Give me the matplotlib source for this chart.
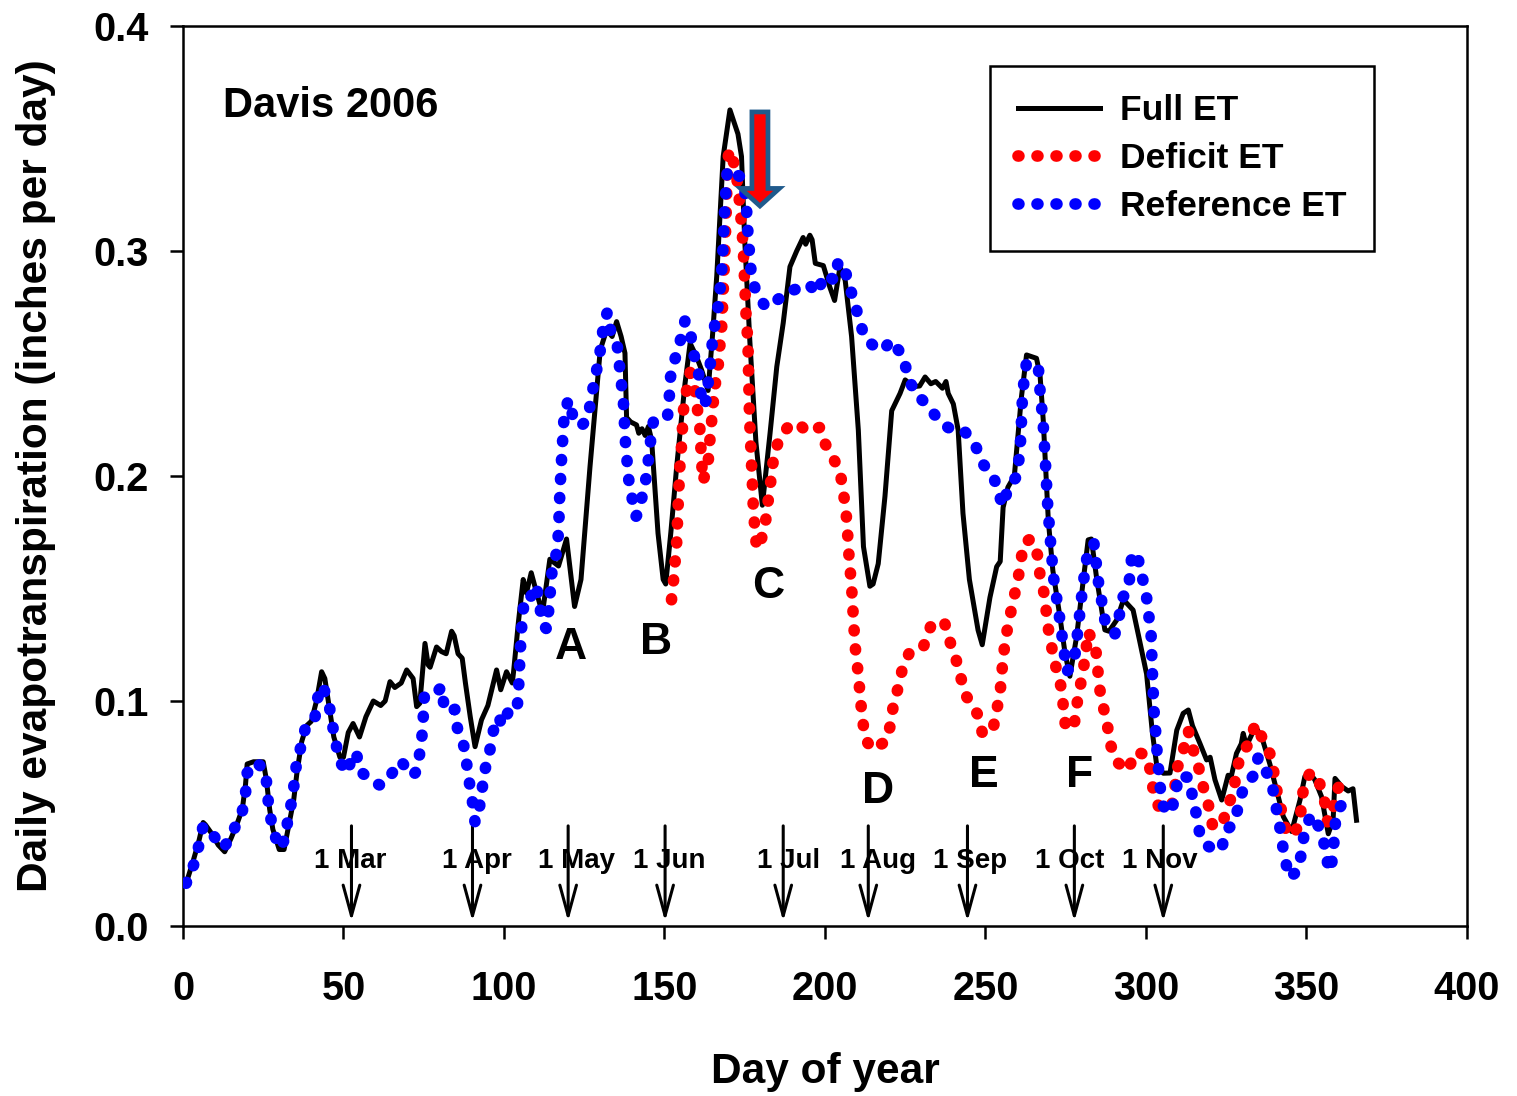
import numpy as np
import matplotlib
matplotlib.use('Agg')
import matplotlib.pyplot as plt

plt.rcParams['font.family'] = ['Liberation Sans', 'DejaVu Sans']
plt.rcParams['font.weight'] = 'bold'

# Full ET (black line)
full_day = [1, 3, 5, 6.3, 7, 9, 11, 13, 15, 17, 18.5, 19.5, 20, 22, 25, 26, 27, 28, 30, 31.5,
            33, 34.5, 35.5, 37, 38.5, 40, 41.6, 43.2, 44.2, 45.5, 47, 48.9, 50, 51.5, 53, 55, 57,
            59.3, 61.6, 63, 64.5, 66, 68, 69.7, 71.7, 72.8, 73.8, 75.4, 76.4, 77, 79, 80.5, 82,
            83.7, 84.5, 85.7, 87, 88, 89.5, 91, 93, 95, 97.7, 99, 100.8, 102.6, 103, 104.5, 106,
            107, 108.5, 110, 112, 114.3, 117, 119.5, 122, 124, 126.8, 130, 132, 133.7, 135.1,
            136.5, 137.7, 138.2, 139.5, 141.3, 142, 143, 144, 145, 146, 148, 149.6, 150.4, 152,
            153.8, 156.4, 158, 160, 161.6, 163.6, 165, 166.3, 168.3, 170.4, 172.9, 174, 175,
            176.6, 178.5, 180.5, 182.9, 185, 187, 189.1, 190, 191.2, 193.2, 194, 195.3, 196, 197,
            199.5, 201.5, 203, 204.7, 206.3, 208.3, 210.4, 212, 214, 215, 216.6, 218.7, 220.8,
            223.4, 225, 227.5, 229.5, 231.2, 233, 234.5, 236.6, 237.7, 238.4, 240, 241.5, 243,
            245, 247.7, 249, 251.4, 253.5, 254.6, 255.5, 257, 259, 261.2, 262.8, 265.9, 267, 268,
            269.6, 271, 273.2, 274.8, 276.3, 278.4, 280.5, 282, 283, 284.6, 285.7, 287.2, 288.5,
            290.9, 293, 296, 298, 300.2, 302, 303.3, 305.4, 307.5, 309.6, 311.6, 313.2, 314.5,
            316.8, 318.9, 320, 321.5, 323.6, 325.6, 326.5, 328.2, 329.7, 330.3, 331.3, 333.4,
            334.8, 336.5, 338.6, 340.7, 342.8, 345.4, 348, 349.5, 351, 352.6, 354.7, 356.8,
            358.3, 358.9, 361, 363, 364.5, 365.6]
full_et = [0.019, 0.028, 0.038, 0.046, 0.045, 0.041, 0.036, 0.033, 0.039, 0.046, 0.052, 0.063,
           0.072, 0.073, 0.073, 0.065, 0.052, 0.043, 0.034, 0.034, 0.045, 0.056, 0.068, 0.082,
           0.089, 0.091, 0.100, 0.113, 0.110, 0.098, 0.084, 0.075, 0.075, 0.086, 0.090, 0.084,
           0.093, 0.100, 0.098, 0.100, 0.1086, 0.106, 0.108, 0.1138, 0.110, 0.0975, 0.099,
           0.1256, 0.116, 0.115, 0.124, 0.122, 0.121, 0.131, 0.129, 0.121, 0.119, 0.108, 0.093,
           0.0797, 0.0916, 0.098, 0.1138, 0.105, 0.113, 0.108, 0.113, 0.135, 0.154, 0.148,
           0.157, 0.149, 0.139, 0.163, 0.160, 0.172, 0.142, 0.154, 0.204, 0.256, 0.265, 0.262,
           0.2686, 0.262, 0.2546, 0.226, 0.224, 0.2227, 0.219, 0.221, 0.218, 0.222, 0.216,
           0.1745, 0.154, 0.152, 0.175, 0.204, 0.241, 0.259, 0.253, 0.247, 0.238, 0.263, 0.289,
           0.342, 0.3627, 0.352, 0.342, 0.305, 0.260, 0.215, 0.187, 0.219, 0.2486, 0.268,
           0.293, 0.296, 0.300, 0.306, 0.303, 0.307, 0.305, 0.2945, 0.2935, 0.284, 0.278,
           0.293, 0.287, 0.262, 0.2204, 0.1686, 0.151, 0.152, 0.161, 0.191, 0.229, 0.2367,
           0.2427, 0.2397, 0.240, 0.244, 0.241, 0.242, 0.239, 0.242, 0.2367, 0.232, 0.2204,
           0.1834, 0.154, 0.1315, 0.125, 0.146, 0.1597, 0.162, 0.186, 0.195, 0.200, 0.235,
           0.2538, 0.2523, 0.245, 0.2249, 0.180, 0.158, 0.1375, 0.1212, 0.111, 0.1286, 0.154,
           0.1716, 0.172, 0.155, 0.145, 0.1316, 0.131, 0.136, 0.145, 0.1404, 0.127, 0.112,
           0.086, 0.072, 0.0679, 0.068, 0.087, 0.0945, 0.096, 0.089, 0.0812, 0.0738, 0.075,
           0.065, 0.056, 0.067, 0.066, 0.0767, 0.081, 0.0856, 0.080, 0.0864, 0.087, 0.082,
           0.072, 0.0604, 0.0486, 0.042, 0.056, 0.0664, 0.068, 0.065, 0.0575, 0.041, 0.047,
           0.0656, 0.062, 0.060, 0.061, 0.047]

# Deficit ET (red dots)
def_day = [152.2, 152.8, 153.8, 154.3, 154.8, 155.3, 155.9, 156.9, 158, 159.5, 161, 161.6, 162,
           163.6, 164.1, 164.6, 165.1, 165.7, 166.7, 167.2, 167.8, 168.3, 168.8, 169.2, 169.7,
           170.4, 172, 173, 173.5, 174, 174.5, 175, 175.5, 176, 176.5, 177, 177.5, 177.7, 178.2,
           178.7, 179.3, 181.3, 182, 182.9, 183.5, 184.4, 186, 188.6, 191.7, 194.2, 198.4, 200,
           202.6, 204.7, 205.7, 206.5, 207, 207.3, 207.8, 208.3, 208.6, 209, 209.3, 210, 210.6,
           211.1, 211.7, 212.5, 214.6, 219, 220.4, 221.3, 222.9, 224.2, 226.7, 230.8, 232.9,
           237.1, 238.8, 240.8, 242.4, 244.1, 247.5, 249, 252.2, 253.2, 254.5, 255, 255.5,
           256.3, 257.4, 258.7, 260, 261, 261.8, 264, 266.5, 267, 268.4, 269, 269.8, 270.9,
           272.2, 273.8, 274.3, 275, 277.6, 278.3, 279.4, 280.5, 281.3, 282, 284.4, 285, 285.5,
           286.7, 288, 289.1, 290.9, 294.3, 296.8, 300, 301.5, 302.3, 304.2, 308, 309, 309.7,
           311.6, 313.2, 314.7, 316.5, 317.9, 319.6, 320.7, 323.8, 325.1, 327.4, 328, 329.6,
           330.5, 332, 334.1, 336.5, 338.8, 339.8, 340.9, 342.3, 343.6, 345.9, 348, 348.5,
           349.3, 351.4, 354.1, 355.8, 356.6, 358.3, 359, 362.3]
def_et = [0.145, 0.153, 0.170, 0.188, 0.204, 0.213, 0.229, 0.238, 0.246, 0.238, 0.222, 0.2057,
          0.1975, 0.2057, 0.215, 0.2227, 0.231, 0.2396, 0.248, 0.257, 0.265, 0.282, 0.299,
          0.3156, 0.341, 0.345, 0.337, 0.328, 0.3197, 0.312, 0.3027, 0.286, 0.269, 0.26, 0.226,
          0.21, 0.193, 0.185, 0.176, 0.168, 0.168, 0.177, 0.186, 0.1946, 0.203, 0.211, 0.217,
          0.222, 0.2236, 0.2197, 0.2216, 0.2145, 0.2078, 0.202, 0.193, 0.185, 0.1764, 0.168,
          0.159, 0.151, 0.143, 0.134, 0.1256, 0.117, 0.1086, 0.100, 0.092, 0.0834, 0.0785,
          0.082, 0.0893, 0.098, 0.1064, 0.1148, 0.1227, 0.1246, 0.133, 0.1356, 0.127, 0.1187,
          0.110, 0.102, 0.0942, 0.086, 0.086, 0.094, 0.1027, 0.111, 0.119, 0.128, 0.136, 0.145,
          0.153, 0.1615, 0.170, 0.172, 0.164, 0.1556, 0.147, 0.139, 0.130, 0.122, 0.1135, 0.105,
          0.0967, 0.088, 0.0886, 0.097, 0.1055, 0.114, 0.1224, 0.131, 0.1227, 0.114, 0.106,
          0.0975, 0.089, 0.080, 0.073, 0.069, 0.0775, 0.076, 0.0686, 0.060, 0.052, 0.053,
          0.0616, 0.070, 0.078, 0.0867, 0.0785, 0.070, 0.0616, 0.053, 0.045, 0.0444, 0.0527,
          0.0592, 0.068, 0.076, 0.078, 0.081, 0.0898, 0.0827, 0.076, 0.0686, 0.0592, 0.0508,
          0.0427, 0.040, 0.0464, 0.055, 0.0634, 0.0686, 0.0634, 0.0545, 0.046, 0.051, 0.059,
          0.0676]

# Reference ET (blue dots)
ref_day = [1, 3.4, 5, 6.3, 9.1, 12.4, 14.8, 17.2, 18.5, 19.5, 20, 22.7, 25.7, 26.3, 26.8, 28.1,
           29.9, 32, 32.7, 34, 34.8, 35.4, 37, 38.3, 41.1, 41.6, 43.5, 45.5, 46.5, 47.5, 48.9,
           51.2, 52.9, 54, 55.1, 58.3, 61.6, 64.7, 67.8, 71.6, 72.8, 73.8, 74.5, 74.9, 75.2,
           78.5, 80.6, 81.3, 82.4, 84.7, 85.5, 87.5, 88.4, 89.2, 90.2, 91, 92.3, 93.2, 94.2,
           95.6, 96.7, 98.4, 99.4, 101.3, 104, 104.5, 105, 105.7, 106.5, 108, 109, 110, 111.2,
           111.7, 113.3, 114, 115, 116.4, 117, 117.4, 118, 118.7, 120, 121.6, 123.9, 126.3, 127,
           128.3, 129.4, 130.4, 131, 132.2, 133.3, 135.3, 135.9, 136.5, 137.2, 137.8, 138.8,
           139.8, 141.1, 141.6, 143.2, 144.4, 145.8, 146.7, 148, 151, 151.5, 151.9, 153.3, 155.1,
           156.4, 158.1, 158.7, 160.5, 161, 162, 163.5, 163.7, 164.5, 165, 166, 167, 167.5, 168,
           168.3, 168.8, 169.6, 171.2, 174.4, 175.4, 176.1, 177.1, 178.7, 181.6, 184.1, 188,
           192.2, 195.1, 197.4, 200, 203, 204.1, 205.7, 207.2, 209, 210.6, 212.3, 215.8, 218.4,
           220.4, 224.4, 225.7, 228, 231.7, 236, 239.7, 243.4, 246.7, 249.1, 252.6, 254.2,
           255.5, 257.1, 259.7, 260.5, 261, 261.5, 262, 262.8, 266.5, 266.9, 268, 268.7, 269.3,
           270.2, 271.2, 273, 274.6, 275.3, 277.6, 279, 280.3, 282, 283.8, 285.2, 287.2, 290.3,
           291.7, 292.7, 294.5, 295.7, 297.6, 298.9, 300.2, 301.6, 302, 302.5, 303, 303.4, 303.9,
           304.4, 305.4, 307.7, 309.3, 310, 313.4, 314.5, 315.8, 316.8, 318.7, 320, 323.6,
           324.6, 327.4, 329, 330.3, 333.4, 335, 337, 339.2, 340.2, 341.4, 342.3, 343.3, 344.6,
           347.2, 348.5, 349.3, 351.4, 354.2, 355.8, 356.7, 357.6, 358.3, 358.8, 359.2, 361.3]
ref_et = [0.019, 0.0274, 0.036, 0.0446, 0.041, 0.0345, 0.039, 0.0474, 0.051, 0.059, 0.068, 0.073,
          0.069, 0.060, 0.0514, 0.043, 0.0345, 0.039, 0.048, 0.056, 0.065, 0.0727, 0.081, 0.089,
          0.0918, 0.100, 0.107, 0.0985, 0.090, 0.082, 0.073, 0.068, 0.0767, 0.077, 0.069,
          0.065, 0.0624, 0.067, 0.0734, 0.0667, 0.069, 0.077, 0.085, 0.0938, 0.102, 0.1027,
          0.1064, 0.098, 0.095, 0.0963, 0.088, 0.080, 0.072, 0.064, 0.055, 0.046, 0.052, 0.061,
          0.070, 0.078, 0.0867, 0.093, 0.089, 0.095, 0.095, 0.1034, 0.120, 0.137, 0.146,
          0.1456, 0.148, 0.1516, 0.143, 0.1348, 0.132, 0.141, 0.158, 0.166, 0.175, 0.192,
          0.209, 0.2256, 0.234, 0.226, 0.222, 0.2256, 0.234, 0.2427, 0.251, 0.259, 0.2676,
          0.2727, 0.264, 0.258, 0.250, 0.2416, 0.233, 0.216, 0.199, 0.191, 0.182, 0.183,
          0.1916, 0.200, 0.217, 0.2256, 0.226, 0.227, 0.235, 0.244, 0.252, 0.261, 0.269, 0.265,
          0.256, 0.248, 0.2396, 0.231, 0.235, 0.244, 0.252, 0.261, 0.270, 0.2775, 0.286, 0.294,
          0.303, 0.3197, 0.3364, 0.3356, 0.332, 0.323, 0.306, 0.289, 0.281, 0.275, 0.277,
          0.2815, 0.2837, 0.2852, 0.281, 0.2896, 0.287, 0.295, 0.2946, 0.2864, 0.278, 0.270,
          0.2616, 0.257, 0.256, 0.2604, 0.2533, 0.245, 0.2367, 0.232, 0.2237, 0.2204, 0.220,
          0.2142, 0.2056, 0.1994, 0.1916, 0.1867, 0.195, 0.1997, 0.208, 0.2167, 0.234, 0.2422,
          0.2505, 0.248, 0.2397, 0.2227, 0.2056, 0.189, 0.172, 0.155, 0.138, 0.121, 0.113,
          0.117, 0.1338, 0.1508, 0.1676, 0.170, 0.153, 0.136, 0.1296, 0.138, 0.146, 0.149,
          0.166, 0.163, 0.1548, 0.146, 0.1296, 0.113, 0.096, 0.087, 0.0787, 0.070, 0.062,
          0.0533, 0.050, 0.0585, 0.0668, 0.066, 0.0575, 0.049, 0.0407, 0.036, 0.035, 0.0338,
          0.042, 0.0456, 0.054, 0.061, 0.0667, 0.075, 0.0698, 0.064, 0.055, 0.047, 0.038,
          0.030, 0.0215, 0.0244, 0.0326, 0.041, 0.0496, 0.0434, 0.035, 0.027, 0.0244, 0.033,
          0.041, 0.0497, 0.0548]

month_names = ['1 Mar', '1 Apr', '1 May', '1 Jun', '1 Jul', '1 Aug', '1 Sep', '1 Oct', '1 Nov']
month_arrow_day = [52.5, 90.2, 120, 150.2, 187, 213.5, 244.4, 277.7, 305.4]
month_text_day = [52, 91.5, 122.6, 151.4, 188.8, 216.4, 245.2, 276.3, 304.4]

letters = ['A', 'B', 'C', 'D', 'E', 'F']
letter_day = [120.9, 147.4, 182.2, 216.5, 249.5, 279.4]
letter_et = [0.1236, 0.126, 0.151, 0.060, 0.0667, 0.067]

fig = plt.figure(figsize=(15.17, 10.96), dpi=100)
ax = fig.add_axes([0.1206, 0.1551, 0.8464, 0.8212])

# round dots spaced along the curve, like a "round dot" dash style
dot_style = dict(linestyle=(0, (0.08, 1.55)), dash_capstyle='round', linewidth=8.4)
ax.plot(full_day, full_et, color='black', linewidth=3.6, label='Full ET', zorder=3)
ax.plot(def_day, def_et, color='#ff0000', label='Deficit ET', zorder=4, **dot_style)
ax.plot(ref_day, ref_et, color='#0000ff', label='Reference ET', zorder=5, **dot_style)

ax.set_xlim(0, 400)
ax.set_ylim(0, 0.4)
ax.set_xticks(np.arange(0, 401, 50))
ax.set_yticks([0, 0.1, 0.2, 0.3, 0.4])
ax.set_yticklabels(['0.0', '0.1', '0.2', '0.3', '0.4'])
ax.tick_params(axis='both', direction='out', length=9.5, width=1.8, labelsize=28.5)
ax.tick_params(axis='x', pad=22)
ax.tick_params(axis='y', pad=15)
for sp in ax.spines.values():
    sp.set_linewidth(1.8)

ax.set_xlabel('Day of year', fontsize=30.5, fontweight='bold', labelpad=32)
ax.set_ylabel('Daily evapotranspiration (inches per day)', fontsize=30.5,
              fontweight='bold', labelpad=27)

ax.text(12.5, 0.3643, 'Davis 2006', fontsize=30, fontweight='bold', ha='left', va='center')

for name, ad, td in zip(month_names, month_arrow_day, month_text_day):
    ax.annotate('', xy=(ad, 0.002), xytext=(ad, 0.0445),
                arrowprops=dict(arrowstyle='->,head_length=2.2,head_width=0.6',
                                lw=2.2, color='black', mutation_scale=10,
                                shrinkA=0, shrinkB=0))
    ax.text(td, 0.029, name, fontsize=20, fontweight='bold', ha='center', va='center',
            zorder=6)

for lt, ld, le in zip(letters, letter_day, letter_et):
    ax.text(ld, le, lt, fontsize=32, fontweight='bold', ha='center', va='center')

# big red arrow near the peak
ax.arrow(179.75, 0.3618, 0, -0.0418, width=5.0, head_width=12.1, head_length=0.0078,
         length_includes_head=True, facecolor='#ff0000', edgecolor='#1f5a8c',
         linewidth=3.4, zorder=7, joinstyle='miter')

leg = ax.legend(loc='upper right', bbox_to_anchor=(0.928, 0.9556), fontsize=25.5,
                frameon=True, fancybox=False, framealpha=1, edgecolor='black',
                handlelength=2.3, handletextpad=0.56, labelspacing=0.42, borderpad=0.8,
                borderaxespad=0)
leg.get_frame().set_linewidth(1.8)
for t in leg.get_texts():
    t.set_fontweight('bold')

fig.savefig('out.png', dpi=100)
